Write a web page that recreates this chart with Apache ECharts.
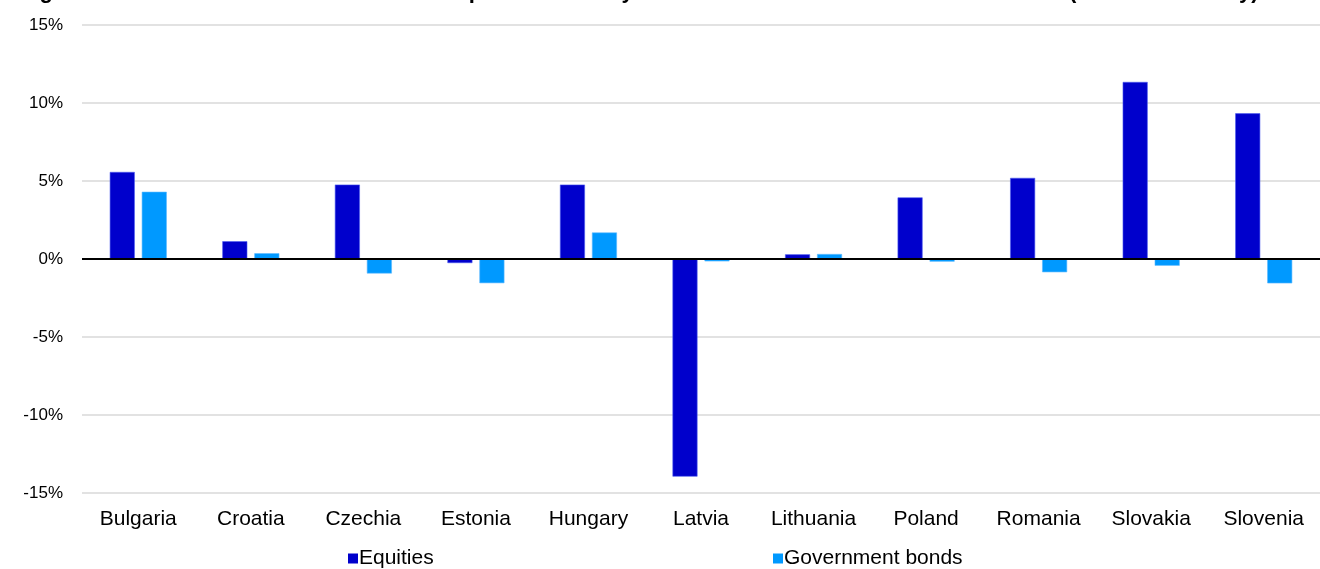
<!DOCTYPE html>
<html>
<head>
<meta charset="utf-8">
<title>CEE equity and bond returns</title>
<script src="https://cdn.jsdelivr.net/npm/echarts@6/dist/echarts.min.js"></script>
<style>
  html, body { margin: 0; padding: 0; background: #fff; }
  #chart { width: 1320px; height: 569px; }
</style>
</head>
<body>
<div id="chart"></div>
<script>
// Countries on the category axis
const countries = ['Bulgaria', 'Croatia', 'Czechia', 'Estonia', 'Hungary', 'Latvia',
  'Lithuania', 'Poland', 'Romania', 'Slovakia', 'Slovenia'];

// Returns in percent
const equities = [5.58, 1.14, 4.77, -0.26, 4.77, -13.95, 0.3, 3.95, 5.2, 11.35, 9.34];
const governmentBonds = [4.31, 0.37, -0.93, -1.55, 1.7, -0.15, 0.32, -0.17, -0.85, -0.43, -1.56];

// Value axis ticks
const yTicks = [-15, -10, -5, 0, 5, 10, 15];

const titleText = 'Figure 3: Stock and bond market returns \u2013 performance by asset class and market in the last month (in local currency)';

const font = 'Liberation Sans, Arial, Helvetica, sans-serif';

const chart = echarts.init(document.getElementById('chart'), null, { renderer: 'canvas' });

const legendCommon = {
  top: 548,
  padding: 0,
  itemWidth: 10,
  itemHeight: 10,
  icon: 'rect',
  itemStyle: { borderWidth: 0 },
  textStyle: { fontSize: 21, color: '#000', fontFamily: font, padding: [0, 0, 0, -4] }
};

chart.setOption({
  animation: false,
  backgroundColor: '#ffffff',
  textStyle: { fontFamily: font },
  graphic: [{
    type: 'text',
    x: 20,
    y: -8,
    style: {
      text: titleText,
      font: 'bold 22px ' + font,
      fill: '#000000',
      verticalAlign: 'middle'
    }
  }],
  legend: [
    Object.assign({ data: ['Equities'], left: 348 }, legendCommon),
    Object.assign({ data: ['Government bonds'], left: 773 }, legendCommon)
  ],
  grid: {
    left: 82,
    right: -10,
    top: 25,
    bottom: 76,
    containLabel: false
  },
  xAxis: {
    type: 'category',
    data: countries,
    axisLine: { show: false, onZero: false },
    axisTick: { show: false },
    axisLabel: { fontSize: 21, color: '#000', margin: 16, fontFamily: font, interval: 0 },
    splitLine: { show: false }
  },
  yAxis: {
    type: 'value',
    min: -15,
    max: 15,
    interval: 5,
    axisLine: { show: false },
    axisTick: { show: false },
    axisLabel: {
      fontSize: 17,
      color: '#000',
      margin: 19,
      fontFamily: font,
      formatter: v => (yTicks.includes(v) ? v + '%' : '')
    },
    splitLine: { show: true, lineStyle: { color: '#d9d9d9', width: 1.5 } }
  },
  series: [{
    name: 'Equities',
    type: 'bar',
    data: equities,
    barWidth: 25,
    barGap: '28%',
    itemStyle: { color: '#0000cc', borderColor: '#4d5cf0', borderWidth: 0.6 },
    markLine: {
      silent: true,
      symbol: 'none',
      label: { show: false },
      lineStyle: { color: '#000000', width: 2, type: 'solid' },
      data: [{ yAxis: 0 }],
      z: 10
    }
  }, {
    name: 'Government bonds',
    type: 'bar',
    data: governmentBonds,
    barWidth: 25,
    itemStyle: { color: '#0099ff', borderColor: '#5ab8ff', borderWidth: 0.6 }
  }]
});
</script>
</body>
</html>
